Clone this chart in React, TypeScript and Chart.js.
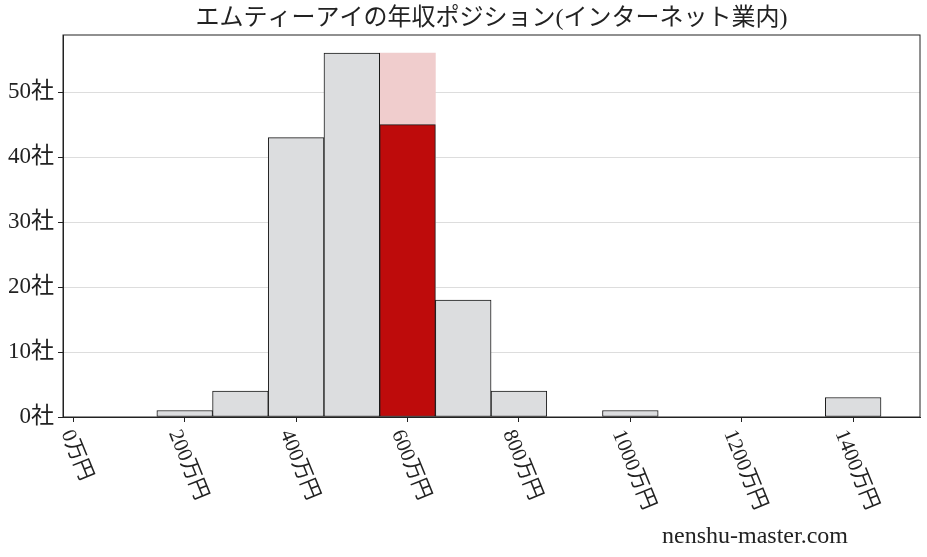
import { useEffect, useRef } from 'react'
import { Chart, registerables } from 'chart.js'

Chart.register(...registerables)

const FONT = "'Liberation Serif', 'Noto Sans CJK JP', serif"

// histogram bins (万円, bin centres) and number of companies per bin
const binCenters = [200, 300, 400, 500, 600, 700, 800, 900, 1000, 1100, 1200, 1300, 1400]
const companyCounts = [1, 4, 43, 56, 45, 18, 4, 0, 1, 0, 0, 0, 3]
// the bin this company falls into, and the pink band behind it
const highlightBin = 600
const highlightBand = [56]

const xTickValues = [0, 200, 400, 600, 800, 1000, 1200, 1400]
const yTickValues = [0, 10, 20, 30, 40, 50]

const titleText = 'エムティーアイの年収ポジション(インターネット業内)'
const watermark = 'nenshu-master.com'

const decorations = {
  id: 'decorations',
  afterDraw(chart: Chart) {
    const { ctx, chartArea: a, scales } = chart
    ctx.save()
    // frame
    ctx.strokeStyle = '#222'
    ctx.lineWidth = 1
    ctx.strokeRect(a.left, a.top, a.right - a.left, a.bottom - a.top)

    // rotated x tick labels
    ctx.fillStyle = '#222'
    ctx.font = `21px ${FONT}`
    const ang = (68 * Math.PI) / 180
    xTickValues.forEach(v => {
      const label = `${v}万円`
      const px = scales.x.getPixelForValue(v)
      const w = ctx.measureText(label).width
      const boxH = w * Math.sin(ang) + 21 * Math.cos(ang)
      ctx.save()
      ctx.translate(px + 3, a.bottom + 10 + boxH / 2)
      ctx.rotate(ang)
      ctx.textAlign = 'center'
      ctx.textBaseline = 'middle'
      ctx.fillText(label, 0, 0)
      ctx.restore()
    })

    // title
    ctx.font = `24px ${FONT}`
    ctx.textAlign = 'center'
    ctx.textBaseline = 'middle'
    ctx.fillText(titleText, (a.left + a.right) / 2, 19)

    // watermark
    ctx.font = `24px ${FONT}`
    ctx.fillText(watermark, 755, 537)
    ctx.restore()
  },
}

export default function App() {
  const canvasRef = useRef<HTMLCanvasElement>(null)
  const chartRef = useRef<Chart | null>(null)

  useEffect(() => {
    if (!canvasRef.current) return
    chartRef.current?.destroy()

    chartRef.current = new Chart(canvasRef.current, {
      type: 'bar',
      data: {
        datasets: [
          {
            label: 'highlight',
            data: [{ x: highlightBin, y: highlightBand[0] }],
            backgroundColor: '#f0cdcd',
            borderWidth: 0,
            grouped: false,
            order: 2,
            barPercentage: 1,
            categoryPercentage: 1,
          },
          {
            label: 'companies',
            data: binCenters.map((x, i) => ({ x, y: companyCounts[i] })),
            backgroundColor: binCenters.map(x => (x === highlightBin ? '#be0b0b' : '#dcdddf')),
            borderColor: '#1a1a1a',
            borderWidth: 1,
            borderSkipped: false,
            grouped: false,
            order: 1,
            barPercentage: 1,
            categoryPercentage: 1,
          },
        ],
      },
      options: {
        responsive: true,
        maintainAspectRatio: false,
        animation: false,
        layout: { padding: { top: 35, right: 7, left: 0, bottom: 0 } },
        plugins: {
          legend: { display: false },
          tooltip: { enabled: false },
          title: { display: false },
        },
        scales: {
          x: {
            type: 'linear',
            min: -18.5,
            max: 1520,
            offset: false,
            afterBuildTicks: axis => {
              axis.ticks = xTickValues.map(value => ({ value }))
            },
            afterFit: axis => {
              axis.height = 140
            },
            ticks: { display: false },
            grid: {
              offset: false,
              drawOnChartArea: false,
              drawTicks: true,
              tickLength: 5,
              tickColor: '#222',
            },
            border: { display: true, color: '#222' },
          },
          y: {
            min: 0,
            max: 58.8,
            afterBuildTicks: axis => {
              axis.ticks = yTickValues.map(value => ({ value }))
            },
            afterFit: axis => {
              axis.width = 63
            },
            ticks: {
              color: '#222',
              padding: 4,
              font: { family: FONT, size: 23 },
              callback: v => `${v}社`,
            },
            grid: { color: '#dddddd', tickColor: '#222', tickLength: 5 },
            border: { display: true, color: '#222' },
          },
        },
      },
      plugins: [decorations],
    })

    return () => chartRef.current?.destroy()
  }, [])

  return (
    <div style={{ position: 'absolute', left: 0, top: 0, width: 927, height: 557, background: '#fff' }}>
      <canvas ref={canvasRef} />
    </div>
  )
}
